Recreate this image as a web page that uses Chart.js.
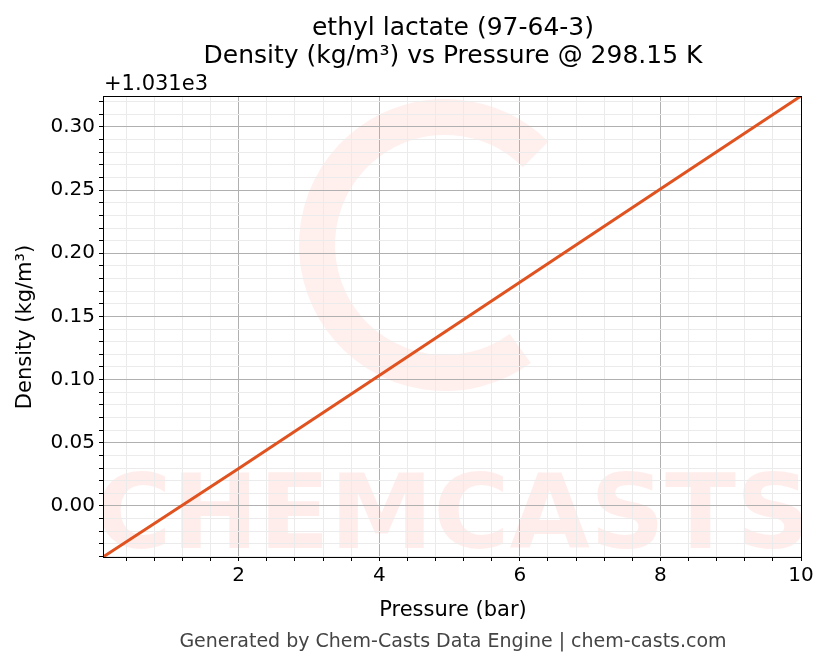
<!DOCTYPE html>
<html><head><meta charset="utf-8">
<script src="https://cdn.jsdelivr.net/npm/chart.js@4/dist/chart.umd.min.js"></script>
<style>html,body{margin:0;padding:0;background:#fff}#c{display:block}</style>
</head><body>
<canvas id="c" width="830" height="666"></canvas>
<script>
// values (density offset by +1031 kg/m3)
const pressure = [0.07, 2, 4, 6, 8, 10]
const density = [-0.0404, 0.0297, 0.1033, 0.1770, 0.2508, 0.3245]
const xTicks = [2, 4, 6, 8, 10]
const yTicks = [0.00, 0.05, 0.10, 0.15, 0.20, 0.25, 0.30]
const X_MIN = 0.07, X_MAX = 10, Y_MIN = -0.0404, Y_MAX = 0.3245

const FONT = 'DejaVu Sans, sans-serif'
const isMajor = (v, list) => list.some(t => Math.abs(t - v) < 1e-6)

function minorTicks(lo, hi, step) {
    const out = []
    for (let v = Math.ceil(lo / step - 1e-9) * step; v <= hi + 1e-9; v += step) out.push({ value: +v.toFixed(4) })
    return out
}

const textPlugin = {
    id: 'texts',
    beforeDraw(chart) {
        const ctx = chart.ctx
        const a = chart.chartArea
        ctx.save()
        ctx.beginPath()
        ctx.rect(a.left, a.top, a.right - a.left, a.bottom - a.top)
        ctx.clip()
        ctx.fillStyle = 'rgba(255,80,60,0.10)'
        ctx.font = 'bold 104px ' + FONT
        ctx.textAlign = 'center'
        ctx.fillText('CHEMCASTS', 453, 548)
        ctx.lineWidth = 36
        ctx.strokeStyle = 'rgba(255,80,60,0.09)'
        ctx.beginPath()
        ctx.arc(445, 245, 128, 0.3 * Math.PI, 1.75 * Math.PI)
        ctx.stroke()
        ctx.restore()
    },
    afterDraw(chart) {
        const ctx = chart.ctx
        ctx.save()
        ctx.fillStyle = '#000'
        ctx.textAlign = 'center'
        ctx.font = '25px ' + FONT
        ctx.fillText('ethyl lactate (97-64-3)', 453, 35)
        ctx.fillText('Density (kg/m³) vs Pressure @ 298.15 K', 453, 63)
        ctx.font = '21px ' + FONT
        ctx.fillText('Pressure (bar)', 453, 616)
        ctx.textAlign = 'left'
        ctx.fillText('+1.031e3', 104, 90)
        ctx.save()
        ctx.translate(31, 327)
        ctx.rotate(-Math.PI / 2)
        ctx.textAlign = 'center'
        ctx.fillText('Density (kg/m³)', 0, 0)
        ctx.restore()
        ctx.fillStyle = '#444'
        ctx.textAlign = 'center'
        ctx.font = '19px ' + FONT
        ctx.fillText('Generated by Chem-Casts Data Engine | chem-casts.com', 453, 647)
        const a = chart.chartArea
        ctx.strokeStyle = '#000'
        ctx.lineWidth = 1
        ctx.strokeRect(a.left + 0.5, a.top + 0.5, a.right - a.left, a.bottom - a.top)
        ctx.restore()
    }
}

new Chart(document.getElementById('c'), {
    type: 'scatter',
    data: {
        datasets: [{
            data: pressure.map((p, i) => ({ x: p, y: density[i] })),
            showLine: true,
            borderColor: '#e0521f',
            borderWidth: 3,
            pointRadius: 0,
            tension: 0,
        }]
    },
    options: {
        responsive: false,
        animation: false,
        layout: { padding: { top: 96, right: 29, left: 0, bottom: 0 } },
        plugins: { legend: { display: false }, tooltip: { enabled: false } },
        scales: {
            x: {
                type: 'linear', min: X_MIN, max: X_MAX,
                afterFit(s) { s.height = 109 },
                afterBuildTicks(s) { s.ticks = minorTicks(0.4, X_MAX, 0.4) },
                grid: {
                    color: c => isMajor(c.tick.value, xTicks) ? '#b0b0b0' : '#ebebeb',
                    tickColor: '#000', tickLength: 4, drawTicks: true,
                },
                border: { display: false },
                ticks: {
                    autoSkip: false, maxRotation: 0, color: '#000', padding: 3,
                    font: { size: 20, family: FONT },
                    callback: v => isMajor(v, xTicks) ? String(v) : ''
                }
            },
            y: {
                type: 'linear', min: Y_MIN, max: Y_MAX,
                afterFit(s) { s.width = 103 },
                afterBuildTicks(s) { s.ticks = minorTicks(-0.04, Y_MAX, 0.01) },
                grid: {
                    color: c => isMajor(c.tick.value, yTicks) ? '#b0b0b0' : '#ebebeb',
                    tickColor: '#000', tickLength: 4,
                },
                border: { display: false },
                ticks: {
                    autoSkip: false, color: '#000', padding: 4,
                    font: { size: 20, family: FONT },
                    callback: v => isMajor(v, yTicks) ? v.toFixed(2) : ''
                }
            }
        }
    },
    plugins: [textPlugin]
})
</script>
</body></html>
